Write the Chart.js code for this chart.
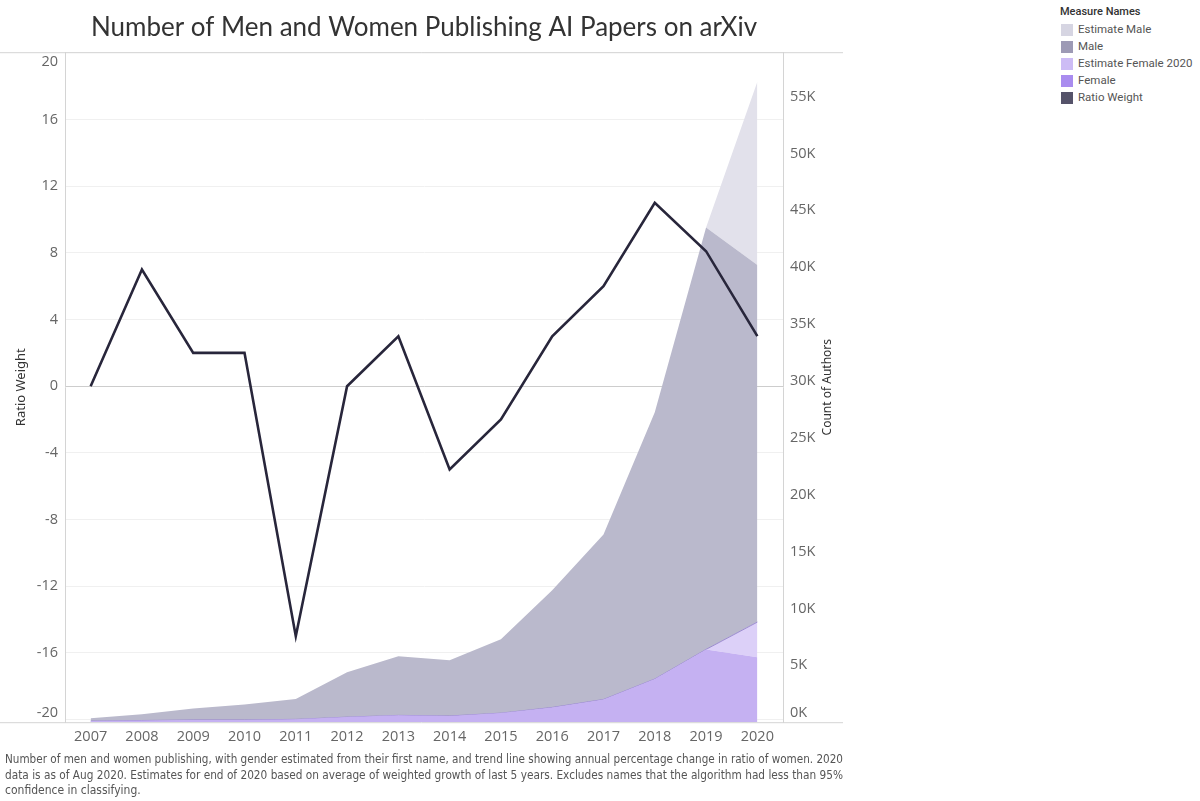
<!DOCTYPE html>
<html>
<head>
<meta charset="utf-8">
<script src="https://cdn.jsdelivr.net/npm/chart.js@4.4.0/dist/chart.umd.min.js"></script>
<style>
  html, body { margin: 0; padding: 0; background: #fff; }
  #wrap { position: absolute; left: 0; top: 0; width: 843px; height: 801px; }
  #legend { position: absolute; left: 1060px; top: 4px; font-family: Roboto, sans-serif; font-size: 11.5px; color: #555; }
  #legend .ttl { color: #333; font-weight: 500; font-size: 11px; height: 17px; line-height: 15px; }
  #legend .row { height: 17px; line-height: 17px; display: flex; align-items: center; }
  #legend .box { width: 12px; height: 12px; margin-right: 5px; margin-left: 1px; }
</style>
</head>
<body>
<div id="wrap"><canvas id="areaChart"></canvas></div>
<div id="legend">
  <div class="ttl">Measure Names</div>
  <div class="row"><span class="box" style="background:#d6d5e2"></span>Estimate Male</div>
  <div class="row"><span class="box" style="background:#9d9ab5"></span>Male</div>
  <div class="row"><span class="box" style="background:#cdbcf5"></span>Estimate Female 2020</div>
  <div class="row"><span class="box" style="background:#a98cef"></span>Female</div>
  <div class="row"><span class="box" style="background:#55536a"></span>Ratio Weight</div>
</div>
<script>
const years = ["2007","2008","2009","2010","2011","2012","2013","2014","2015","2016","2017","2018","2019","2020"];
const ratioWeight = [0, 7, 2, 2, -15, 0, 3, -5, -2, 3, 6, 11, 8.1, 3];
// author counts, stacked bottom to top: female, estimate female, male, estimate male
const female = [100, 150, 200, 200, 250, 450, 600, 550, 800, 1300, 2000, 3800, 6400, 5700];
const estimateFemale2020 = [0, 0, 0, 0, 0, 0, 0, 0, 0, 0, 0, 0, 0, 3100];
const male = [250, 550, 1000, 1350, 1800, 3950, 5200, 4900, 6500, 10300, 14500, 23450, 37100, 31400];
const estimateMale = [0, 0, 0, 0, 0, 0, 0, 0, 0, 0, 0, 0, 0, 16100];
const ratioTicks = [-20, -16, -12, -8, -4, 0, 4, 8, 12, 16, 20];
const countTicks = [0, 5000, 10000, 15000, 20000, 25000, 30000, 35000, 40000, 45000, 50000, 55000];

const tickFont = { family: "Open Sans", size: 14.5 };

const frame = {
    id: 'frame',
    beforeDraw(chart) {
        // push the edge tick labels inside the plot like the original
        ['y', 'y2'].forEach(id => {
            const s = chart.scales[id];
            try {
                s.getLabelItems(chart.chartArea).forEach(it => {
                    const t = it.options.translation;
                    if (Math.abs(t[1] - chart.chartArea.bottom) < 5) t[1] = chart.chartArea.bottom - 9;
                    if (Math.abs(t[1] - chart.chartArea.top) < 5) t[1] = chart.chartArea.top + 10;
                });
            } catch (e) {}
        });
    },
    afterDraw(chart) {
        const ctx = chart.ctx, a = chart.chartArea;
        ctx.save();
        ctx.strokeStyle = '#d4d4d4';
        ctx.lineWidth = 1;
        ctx.beginPath();
        ctx.moveTo(0, a.top + 0.5); ctx.lineTo(chart.width, a.top + 0.5);
        ctx.moveTo(0, a.bottom + 0.5); ctx.lineTo(chart.width, a.bottom + 0.5);
        ctx.stroke();
        ctx.translate(a.right + 45, (a.top + a.bottom) / 2);
        ctx.rotate(-Math.PI / 2);
        ctx.fillStyle = '#333';
        ctx.font = '12px "Noto Sans"';
        ctx.textAlign = 'center';
        ctx.textBaseline = 'middle';
        ctx.fillText('Count of Authors', 0, 0);
        ctx.restore();
    }
};

new Chart(document.getElementById("areaChart"), {
    type: 'line',
    data: {
        labels: years,
        datasets: [{
            label: "Female",
            data: female,
            yAxisID: 'y2',
            backgroundColor: "#c5b1f2",
            borderWidth: 0,
            fill: 'origin'
        }, {
            label: "Estimate Female 2020",
            data: estimateFemale2020,
            yAxisID: 'y2',
            backgroundColor: "#dcd0f8",
            borderColor: "#9c8cd0",
            borderWidth: 1,
            fill: '-1'
        }, {
            label: "Male",
            data: male,
            yAxisID: 'y2',
            backgroundColor: "#bab9cc",
            borderWidth: 0,
            fill: '-1'
        }, {
            label: "Estimate Male",
            data: estimateMale,
            yAxisID: 'y2',
            backgroundColor: "#e2e1eb",
            borderWidth: 0,
            fill: '-1'
        }, {
            label: "Ratio Weight",
            data: ratioWeight,
            yAxisID: 'y',
            borderColor: "#28263b",
            borderWidth: 2.6,
            fill: false,
            order: -1
        }]
    },
    options: {
        responsive: true,
        maintainAspectRatio: false,
        animation: false,
        layout: { padding: { left: 5, right: 0 } },
        elements: { point: { radius: 0 }, line: { tension: 0 } },
        scales: {
            x: {
                offset: true,
                grid: { display: false, drawTicks: false },
                border: { display: false },
                ticks: { color: '#666', font: tickFont, padding: 6, maxRotation: 0 },
                afterFit(s) { s.height = 30; }
            },
            y: {
                position: 'left',
                min: -20.16,
                max: 20.04,
                afterBuildTicks(s) { s.ticks = ratioTicks.map(v => ({ value: v })); },
                grid: {
                    drawTicks: false,
                    color: c => (c.tick && c.tick.value === 0) ? '#cdcdcd' : '#f0f0f0'
                },
                border: { color: '#d4d4d4' },
                ticks: { color: '#666', font: tickFont, padding: 7 },
                title: { display: true, text: 'Ratio Weight', color: '#333', font: { family: 'Noto Sans', size: 13 }, padding: { top: 8, bottom: 0 } },
                afterFit(s) { s.width = 60; }
            },
            y2: {
                position: 'right',
                stacked: true,
                min: 0,
                max: 58900,
                afterBuildTicks(s) { s.ticks = countTicks.map(v => ({ value: v })); },
                grid: { display: false, drawTicks: false },
                border: { color: '#d4d4d4' },
                ticks: { color: '#666', font: tickFont, padding: 7, callback: v => (v / 1000) + 'K' },
                afterFit(s) { s.width = 60; }
            }
        },
        plugins: {
            legend: { display: false },
            tooltip: { enabled: false },
            title: {
                display: true,
                text: 'Number of Men and Women Publishing AI Papers on arXiv',
                color: '#333',
                font: { family: 'Lato', size: 26, weight: 'normal', lineHeight: 1.2 },
                padding: { top: 12, bottom: 9 }
            },
            subtitle: {
                display: true,
                position: 'bottom',
                align: 'start',
                text: [
                    'Number of men and women publishing, with gender estimated from their first name, and trend line showing annual percentage change in ratio of women. 2020',
                    'data is as of Aug 2020. Estimates for end of 2020 based on average of weighted growth of last 5 years. Excludes names that the algorithm had less than 95%',
                    'confidence in classifying.'
                ],
                color: '#555',
                font: { family: '"Liberation Sans Narrow", "DejaVu Sans Condensed", sans-serif', size: 12, lineHeight: 1.3 },
                padding: { top: 0, bottom: 2 }
            }
        }
    },
    plugins: [frame]
});
</script>
</body>
</html>
